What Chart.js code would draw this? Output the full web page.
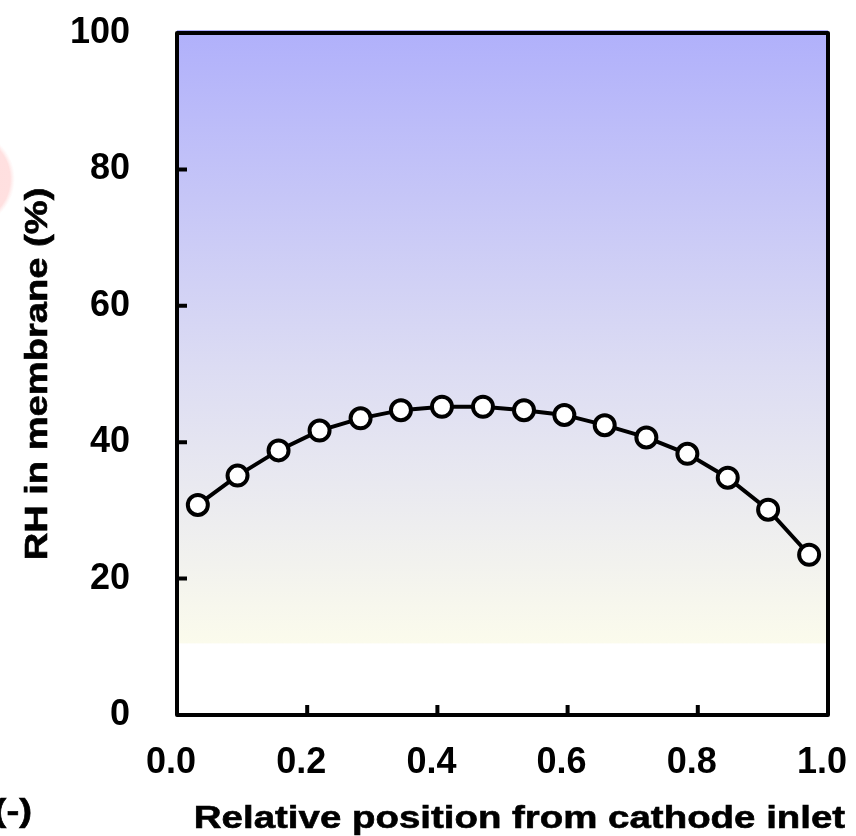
<!DOCTYPE html>
<html>
<head>
<meta charset="utf-8">
<script src="https://cdn.jsdelivr.net/npm/chart.js@4.4.0/dist/chart.umd.min.js"></script>
<style>
  html, body { margin: 0; padding: 0; background: #fff; }
</style>
</head>
<body>
<canvas id="rhChart" width="856" height="836"></canvas>
<script>
// relative position along the channel and membrane RH (%)
const positions = [0.032, 0.093, 0.156, 0.219, 0.282, 0.344, 0.407, 0.470,
                   0.533, 0.595, 0.657, 0.721, 0.784, 0.846, 0.908, 0.971];
const rhValues = [30.8, 35.1, 38.8, 41.7, 43.5, 44.7, 45.2, 45.2,
                  44.7, 44.0, 42.5, 40.7, 38.3, 34.8, 30.1, 23.5];
const xTicks = [0, 0.2, 0.4, 0.6, 0.8, 1.0];
const yTicks = [0, 20, 40, 60, 80, 100];
// shaded humidity band (in RH %)
const bandTop = 100;
const bandBottom = 10.5;

const FONT = "'Liberation Sans', Arial, Helvetica, sans-serif";

// draws a bold label stretched along its reading direction
function wideText(ctx, text, x, y, angle, stretch, align) {
  ctx.save();
  ctx.translate(x, y);
  ctx.rotate(angle);
  ctx.scale(stretch, 1);
  ctx.font = 'bold 31.5px ' + FONT;
  ctx.fillStyle = '#000';
  ctx.strokeStyle = '#000';
  ctx.lineWidth = 0.6;
  ctx.textAlign = align || 'center';
  ctx.textBaseline = 'alphabetic';
  ctx.fillText(text, 0, 0);
  ctx.strokeText(text, 0, 0);
  ctx.restore();
}

const framePlugin = {
  id: 'frame',
  beforeDraw(chart) {
    const {ctx, chartArea: a, scales: {y}} = chart;
    const top = y.getPixelForValue(bandTop) - 3;
    const bottom = y.getPixelForValue(bandBottom);
    const g = ctx.createLinearGradient(0, top, 0, bottom);
    g.addColorStop(0, 'rgb(176,176,251)');
    g.addColorStop(0.55, 'rgb(220,220,243)');
    g.addColorStop(1, 'rgb(251,251,236)');
    ctx.save();
    ctx.fillStyle = g;
    ctx.fillRect(a.left, top, a.right - a.left, bottom - top);

    // faint pink disc at the left edge
    const r = ctx.createRadialGradient(-34, 179, 0, -34, 179, 49);
    r.addColorStop(0, 'rgb(255,222,222)');
    r.addColorStop(0.9, 'rgb(255,224,224)');
    r.addColorStop(1, 'rgba(255,236,236,0)');
    ctx.fillStyle = r;
    ctx.beginPath();
    ctx.arc(-34, 179, 49, 0, Math.PI * 2);
    ctx.fill();
    ctx.restore();
  },
  afterDraw(chart) {
    const {ctx, chartArea: a, scales: {x, y}} = chart;
    ctx.save();
    ctx.strokeStyle = '#000';
    ctx.lineWidth = 4;
    ctx.lineJoin = 'round';
    ctx.strokeRect(a.left, a.top, a.right - a.left, a.bottom - a.top);

    // inward tick marks
    ctx.beginPath();
    x.ticks.forEach(t => {
      const px = x.getPixelForValue(t.value);
      ctx.moveTo(px, a.bottom);
      ctx.lineTo(px, a.bottom - 10);
    });
    y.ticks.forEach(t => {
      const py = y.getPixelForValue(t.value);
      ctx.moveTo(a.left, py);
      ctx.lineTo(a.left + 10, py);
    });
    ctx.stroke();
    ctx.restore();

    wideText(ctx, 'Relative position from cathode inlet', (a.left + a.right) / 2 + 17, 828, 0, 1.22);
    wideText(ctx, 'RH in membrane (%)', 47, (a.top + a.bottom) / 2, -Math.PI / 2, 1.21);
    wideText(ctx, '(-)', 32, 821, 0, 1.22, 'right');
  }
};

new Chart(document.getElementById('rhChart'), {
  type: 'scatter',
  plugins: [framePlugin],
  data: {
    datasets: [{
      data: positions.map((p, i) => ({x: p, y: rhValues[i]})),
      showLine: true,
      borderColor: '#000',
      borderWidth: 4,
      pointRadius: 10,
      pointHoverRadius: 10,
      pointBorderWidth: 4,
      pointBackgroundColor: '#fff',
      pointBorderColor: '#000',
      tension: 0
    }]
  },
  options: {
    responsive: false,
    animation: false,
    layout: {padding: {left: 0, right: 28, top: 33, bottom: 0}},
    plugins: {legend: {display: false}, tooltip: {enabled: false}},
    scales: {
      x: {
        type: 'linear',
        min: 0,
        max: 1,
        afterBuildTicks: s => { s.ticks = xTicks.map(v => ({value: v})); },
        afterFit: s => {
          s.height = 121;
          s.paddingLeft = 0;
          s.paddingRight = 0;
        },
        grid: {display: false, drawTicks: false},
        border: {display: false},
        ticks: {
          color: '#000',
          padding: 26,
          labelOffset: -6,
          maxRotation: 0,
          font: {family: FONT, size: 36, weight: 'bold'},
          callback: v => Number(v).toFixed(1)
        }
      },
      y: {
        min: 0,
        max: 100,
        afterBuildTicks: s => { s.ticks = yTicks.map(v => ({value: v})); },
        afterFit: s => {
          s.width = 177;
          s.paddingTop = 0;
          s.paddingBottom = 0;
        },
        grid: {display: false, drawTicks: false},
        border: {display: false},
        ticks: {
          color: '#000',
          padding: 47,
          font: {family: FONT, size: 36, weight: 'bold'},
          callback: v => String(v)
        }
      }
    }
  }
});
</script>
</body>
</html>
